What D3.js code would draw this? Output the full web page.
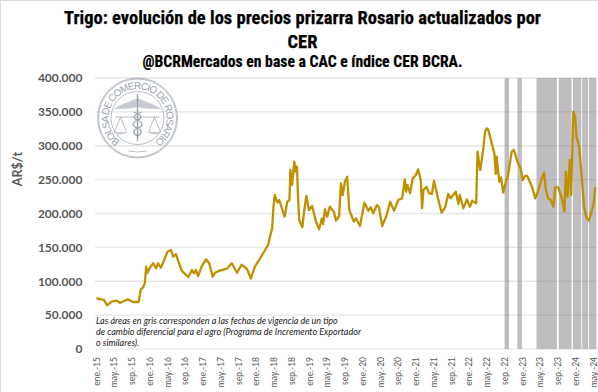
<!DOCTYPE html>
<html>
<head>
<meta charset="utf-8">
<script src="https://cdn.jsdelivr.net/npm/d3@7"></script>
<style>
  html, body { margin: 0; padding: 0; background: #fff; }
  svg { display: block; }
  .tick text { font-family: Lato, sans-serif; }
</style>
</head>
<body>
<div id="chart"></div>
<script>
// -------------------- Data --------------------

// meses desde ene-15
const meses = [0,0.8,1.7,2.4,3.4,4.6,5.3,7.1,8.2,9.5,10.0,10.5,10.9,11.2,11.5,12.1,12.8,13.4,13.9,14.5,15.2,16.0,16.8,17.3,17.9,18.4,19.2,19.8,20.7,21.5,22.0,22.4,22.9,23.7,24.7,25.4,26.2,26.7,27.8,29.4,30.5,31.7,32.7,33.9,34.8,35.7,36.9,38.0,38.7,39.1,39.6,39.9,40.2,40.8,41.2,41.8,42.4,43.0,43.5,43.7,44.1,44.6,44.9,45.2,45.4,45.7,46.4,46.8,47.3,47.9,48.6,49.5,50.2,50.8,51.1,51.5,52.0,52.6,53.5,54.0,54.7,55.1,55.5,56.0,56.5,57.0,58.0,58.5,59.4,60.4,61.3,61.8,62.4,63.2,63.7,64.4,65.3,66.2,67.1,68.0,68.9,69.5,69.8,70.1,70.7,71.3,72.0,72.5,73.1,73.4,73.7,74.4,75.0,75.6,76.1,76.8,77.8,78.6,79.3,79.8,81.0,81.6,81.9,82.7,83.5,84.2,84.7,85.6,85.9,86.5,86.8,87.2,87.6,88.0,88.3,89.1,89.7,90.0,90.2,90.8,91.2,91.7,92.3,92.8,93.6,94.1,94.9,95.6,96.1,96.6,97.1,97.7,98.3,98.9,99.4,100.4,100.9,101.3,101.8,102.4,103.0,103.4,104.1,104.9,105.5,105.8,106.2,106.7,107.0,107.5,107.9,108.2,108.8,109.4,109.9,110.5,111.0,111.6,112.1,112.4];

const precios = [74800,73800,72300,64500,69800,71300,68300,73400,69400,69400,88100,91000,97000,121500,112600,120600,126500,119100,126500,120000,130300,143600,146100,136200,140200,130300,115600,111700,106300,116600,111700,116600,107700,121500,132400,126500,106700,112600,115600,118500,126500,112600,124400,118500,103800,121500,133900,146100,153500,165800,178100,210000,227300,216000,219900,207700,195300,217400,219900,264200,242100,276500,261700,269100,229800,190400,179600,202700,225800,205200,211100,187900,176700,192900,184500,206200,195300,210000,202700,189400,196300,244600,227300,246900,254300,205200,187900,192900,181500,216000,204100,209100,200300,212500,209100,181500,195300,217400,204100,219900,222400,250400,232200,242100,229800,252000,256800,265100,249400,207700,234700,239600,229800,228800,248400,227300,201200,209100,228800,222400,232200,214000,227300,207700,220800,210000,218900,215000,291200,264200,276500,296100,320700,325700,324200,303500,288700,258300,283900,246900,253400,230700,246900,256800,291200,293700,276500,266700,249400,255400,255400,246900,237000,222400,229800,252000,260400,235600,222400,219900,210000,238600,238600,222400,202700,261700,224900,279000,227300,350300,342900,313400,298600,254300,210000,192900,189400,202700,215000,238600];

const bandasInicio = [92.0,94.9,99.2,104.2,107.4,109.5,111.0];
const bandasFin = [93.0,95.9,103.8,107.1,109.3,110.8,112.7];

const valoresY = [0,50000,100000,150000,200000,250000,300000,350000,400000];
const tickMeses = [0,4,8,12,16,20,24,28,32,36,40,44,48,52,56,60,64,68,72,76,80,84,88,92,96,100,104,108,112];
const tickEtiquetas = ["ene.-15","may.-15","sep.-15","ene.-16","may.-16","sep.-16","ene.-17","may.-17","sep.-17","ene.-18","may.-18","sep.-18","ene.-19","may.-19","sep.-19","ene.-20","may.-20","sep.-20","ene.-21","may.-21","sep.-21","ene.-22","may.-22","sep.-22","ene.-23","may.-23","sep.-23","ene.-24","may.-24"];

const titulo = ["Trigo: evolución de los precios prizarra Rosario actualizados por", "CER"];
const subtitulo = "@BCRMercados en base a CAC e índice CER BCRA.";
const nota = ["Las áreas en gris corresponden a las fechas de vigencia de un tipo", "de cambio diferencial para el agro (Programa de Incremento Exportador", "o similares)."];

// -------------------- Constants --------------------

const svgWidth = 598, svgHeight = 392;
const plotLeft = 95, plotRight = 597, plotTop = 78, plotBottom = 349;

const xScale = d3.scaleLinear().domain([0, 112]).range([96.5, 593.3]);
const yScale = d3.scaleLinear().domain([0, 400000]).range([plotBottom, plotTop]);

const svg = d3.select("#chart").append("svg")
  .attr("width", svgWidth)
  .attr("height", svgHeight);

// marco
svg.append("rect")
  .attr("x", 0.5).attr("y", 0.5)
  .attr("width", svgWidth + 5).attr("height", svgHeight + 5)
  .attr("fill", "#fff")
  .attr("stroke", "#dcdcdc");

// -------------------- Titles --------------------

const headFont = "'Liberation Sans Narrow', 'Roboto Condensed', 'Liberation Sans', sans-serif";

svg.selectAll(".titulo")
  .data(titulo)
  .join("text")
  .attr("class", "titulo")
  .attr("x", 302.5)
  .attr("y", (d, i) => 24 + i * 24)
  .attr("text-anchor", "middle")
  .attr("font-family", headFont)
  .attr("font-weight", 700)
  .attr("font-size", 18.5)
  .attr("fill", "#000")
  .attr("stroke", "#000")
  .attr("stroke-width", 0.25)
  .text(d => d);

svg.append("text")
  .attr("x", 302.5)
  .attr("y", 67)
  .attr("text-anchor", "middle")
  .attr("font-family", headFont)
  .attr("font-weight", 700)
  .attr("font-size", 15.7)
  .attr("fill", "#000")
  .attr("stroke", "#000")
  .attr("stroke-width", 0.2)
  .text(subtitulo);

// -------------------- Grid + bands --------------------

svg.append("g").selectAll("line")
  .data(valoresY)
  .join("line")
  .attr("x1", plotLeft)
  .attr("x2", plotRight)
  .attr("y1", d => yScale(d))
  .attr("y2", d => yScale(d))
  .attr("stroke", "#e6e6e6")
  .attr("stroke-width", d => d === 0 ? 1 : 1.4);

svg.append("g").selectAll("rect")
  .data(bandasInicio)
  .join("rect")
  .attr("x", d => xScale(d))
  .attr("width", (d, i) => xScale(bandasFin[i]) - xScale(d))
  .attr("y", plotTop)
  .attr("height", plotBottom - plotTop)
  .attr("fill", "#7f7c80")
  .attr("fill-opacity", 0.5);

// -------------------- Axes --------------------

const yAxis = svg.append("g")
  .attr("transform", `translate(${plotLeft - 12.5}, 0)`)
  .call(d3.axisLeft(yScale)
    .tickValues(valoresY)
    .tickSize(0)
    .tickPadding(0)
    .tickFormat(d => d3.format(",")(d).replace(/,/g, ".")));
yAxis.select(".domain").remove();
yAxis.selectAll("text")
  .attr("font-size", 12)
  .attr("font-weight", 700)
  .attr("fill", "#595959");

const xAxis = svg.append("g")
  .attr("transform", `translate(0, ${plotBottom})`)
  .call(d3.axisBottom(xScale)
    .tickValues(tickMeses)
    .tickSize(0)
    .tickFormat((d, i) => tickEtiquetas[i]));
xAxis.select(".domain").remove();
xAxis.selectAll("text")
  .attr("transform", "translate(0, 8) rotate(-90)")
  .attr("x", 0)
  .attr("y", 0)
  .attr("dy", "0.32em")
  .attr("text-anchor", "end")
  .attr("font-size", 8.5)
  .attr("fill", "#595959");

svg.append("text")
  .attr("transform", "translate(22, 169) rotate(-90)")
  .attr("text-anchor", "middle")
  .attr("font-family", "Lato, sans-serif")
  .attr("font-weight", 700)
  .attr("font-size", 12.5)
  .attr("fill", "#595959")
  .text("AR$/t");

// -------------------- Logo --------------------

const logoColor = "#9ba3ad";
const logo = svg.append("g")
  .attr("transform", "translate(137.5, 118)")
  .attr("fill", "none")
  .attr("stroke", logoColor)
  .attr("stroke-width", 0.7);

logo.append("circle").attr("r", 40);
logo.append("circle").attr("r", 39);
logo.append("circle").attr("r", 26.5);

const arco = d3.path();
arco.arc(0, 0, 29, -Math.PI / 2 - 2.5, -Math.PI / 2 + 2.5);

logo.append("path")
  .attr("id", "logoArco")
  .attr("stroke", "none")
  .attr("d", arco.toString());

logo.append("path")
  .attr("d", "M-9 33 Q0 35 9 33");

logo.append("text")
  .attr("fill", logoColor)
  .attr("stroke", "none")
  .attr("font-family", "'Liberation Sans', sans-serif")
  .attr("font-size", 10)
  .attr("textLength", 145)
  .append("textPath")
  .attr("href", "#logoArco")
  .attr("textLength", 145)
  .text("BOLSA DE COMERCIO DE ROSARIO");

// alas, baston y balanzas
logo.append("path").attr("fill", logoColor).attr("stroke", "none")
  .attr("d", "M0 -20 C-6 -17 -16 -14 -24 -9 C-15 -9 -7 -9 0 -11 C7 -9 15 -9 24 -9 C16 -14 6 -17 0 -20Z")
  .attr("fill-opacity", 0.55);
logo.append("path").attr("stroke-width", 1.4)
  .attr("d", "M0 -24 L0 23");
logo.append("path").attr("stroke-width", 1.2)
  .attr("d", "M-4 -6 C5 -3 5 0 0 2 C-6 5 -6 8 0 10 C5 12 5 15 0 18 M4 -6 C-5 -3 -5 0 0 2 C6 5 6 8 0 10 C-5 12 -5 15 0 18");
logo.append("path")
  .attr("d", "M-22 -1 L22 -1 M-17 -1 L-23 14 M-17 -1 L-11 14 M17 -1 L23 14 M17 -1 L11 14");
logo.append("path").attr("fill", logoColor).attr("fill-opacity", 0.55).attr("stroke", "none")
  .attr("d", "M-24 14 L-10 14 Q-17 19 -24 14Z M10 14 L24 14 Q17 19 10 14Z");

// -------------------- Note --------------------

svg.selectAll(".nota")
  .data(nota)
  .join("text")
  .attr("class", "nota")
  .attr("x", 96)
  .attr("y", (d, i) => 324 + i * 11.2)
  .attr("font-family", "Lato, sans-serif")
  .attr("font-style", "italic")
  .attr("font-size", 9)
  .attr("fill", "#1a1a1a")
  .text(d => d);

// -------------------- Line --------------------

const line = d3.line()
  .x((d, i) => xScale(meses[i]))
  .y(d => yScale(d));

svg.append("path")
  .datum(precios)
  .attr("fill", "none")
  .attr("stroke", "#bf9000")
  .attr("stroke-width", 2.3)
  .attr("stroke-linejoin", "round")
  .attr("d", line);
</script>
</body>
</html>
